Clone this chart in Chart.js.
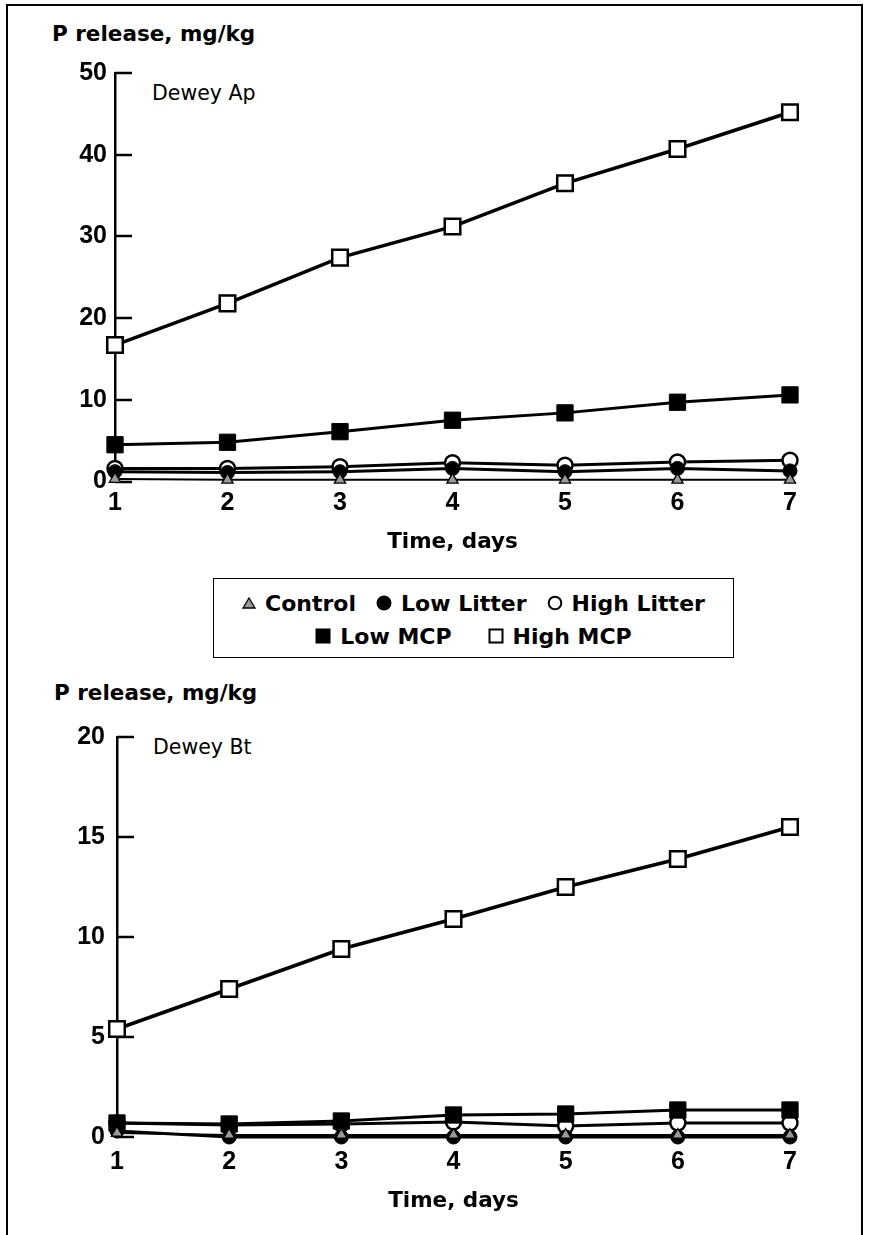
<!DOCTYPE html>
<html>
<head>
<meta charset="utf-8">
<script src="https://cdn.jsdelivr.net/npm/chart.js@4.4.1/dist/chart.umd.min.js"></script>
<style>
  body { margin: 0; background: #fff; }
  #page { position: relative; width: 869px; height: 1235px; overflow: hidden; font-family: "DejaVu Sans", sans-serif; color: #000; }
  #frame { position: absolute; left: 6px; top: 4px; width: 853px; height: 1300px; border: 2.5px solid #000; border-bottom: none; }
  .ytitle { position: absolute; font-weight: bold; font-size: 21.5px; line-height: 26px; white-space: nowrap; }
  .panel { position: absolute; font-size: 20.5px; line-height: 26px; white-space: nowrap; }
  canvas { position: absolute; left: 0; }
  #legend { position: absolute; left: 213px; top: 578px; width: 521px; height: 80px; box-sizing: border-box; border: 1.5px solid #000; font-weight: bold; font-size: 22px; }
  .row { position: absolute; left: 0; right: 0; height: 30px; display: flex; justify-content: center; align-items: center; white-space: nowrap; }
  .item { display: flex; align-items: center; margin: 0 10px; }
  .item svg { margin-right: 9px; }
</style>
</head>
<body>
<div id="page">
  <div id="frame"></div>

  <div class="ytitle" style="left:52px; top:21px;">P release, mg/kg</div>
  <div class="panel" style="left:152px; top:80px;">Dewey Ap</div>
  <canvas id="apChart" width="869" height="510" style="top:50px;"></canvas>

  <div id="legend">
    <div class="row" style="top:9px;">
      <span class="item"><svg width="14" height="12"><polygon points="7,1 13,11 1,11" fill="#999" stroke="#000" stroke-width="1.3"/></svg>Control</span>
      <span class="item"><svg width="16" height="16"><circle cx="8" cy="8" r="7.5" fill="#000"/></svg>Low Litter</span>
      <span class="item"><svg width="16" height="16"><circle cx="8" cy="8" r="6.3" fill="#fff" stroke="#000" stroke-width="2"/></svg>High Litter</span>
    </div>
    <div class="row" style="top:42px;">
      <span class="item" style="margin-right:18px;"><svg width="16" height="16"><rect x="0.5" y="0.5" width="15" height="15" fill="#000"/></svg>Low MCP</span>
      <span class="item" style="margin-left:18px;"><svg width="16" height="16"><rect x="1.5" y="1.5" width="13" height="13" fill="#fff" stroke="#000" stroke-width="2"/></svg>High MCP</span>
    </div>
  </div>

  <div class="ytitle" style="left:54px; top:680px;">P release, mg/kg</div>
  <div class="panel" style="left:153px; top:734px;">Dewey Bt</div>
  <canvas id="btChart" width="869" height="515" style="top:710px;"></canvas>
</div>

<script>
// --- Data ---
const days = [1, 2, 3, 4, 5, 6, 7];
const seriesNames = ['Control', 'Low Litter', 'High Litter', 'Low MCP', 'High MCP'];

// Dewey Ap (top panel)
const apControl    = [0.3, 0.2, 0.2, 0.2, 0.2, 0.2, 0.2];
const apLowLitter  = [1.2, 1.1, 1.2, 1.6, 1.2, 1.6, 1.3];
const apHighLitter = [1.6, 1.6, 1.8, 2.3, 2.0, 2.4, 2.6];
const apLowMCP     = [4.5, 4.8, 6.1, 7.5, 8.4, 9.7, 10.6];
const apHighMCP    = [16.7, 21.8, 27.4, 31.2, 36.5, 40.7, 45.2];
const apTicks = [0, 10, 20, 30, 40, 50];

// Dewey Bt (bottom panel)
const btControl    = [0.2, 0.1, 0.1, 0.1, 0.1, 0.1, 0.1];
const btLowLitter  = [0.3, 0, 0, 0, 0, 0, 0];
const btHighLitter = [0.7, 0.6, 0.65, 0.75, 0.55, 0.7, 0.7];
const btLowMCP     = [0.7, 0.65, 0.8, 1.1, 1.15, 1.35, 1.35];
const btHighMCP    = [5.4, 7.4, 9.4, 10.9, 12.5, 13.9, 15.5];
const btTicks = [0, 5, 10, 15, 20];

// marker look per series, same order as seriesNames
const styles = [
  { pointStyle: 'triangle', pointRadius: 6.5, bg: '#999', bw: 1.3, lw: 2,   order: 0 },
  { pointStyle: 'circle',   pointRadius: 7,   bg: '#000', bw: 1,   lw: 3,   order: 2 },
  { pointStyle: 'circle',   pointRadius: 7.5, bg: '#fff', bw: 2.5, lw: 3,   order: 3 },
  { pointStyle: 'rect',     pointRadius: 11.5, bg: '#000', bw: 1,  lw: 3,   order: 1 },
  { pointStyle: 'rect',     pointRadius: 11,  bg: '#fff', bw: 2.5, lw: 3.5, order: 4 }
];

// ticks pointing into the plot, like the original
const inwardTicks = {
  id: 'inwardTicks',
  beforeDatasetsDraw(chart) {
    const y = chart.scales.y;
    const ctx = chart.ctx;
    ctx.save();
    ctx.strokeStyle = '#000';
    ctx.lineWidth = 2.5;
    y.ticks.forEach(t => {
      const py = Math.round(y.getPixelForValue(t.value));
      ctx.beginPath();
      ctx.moveTo(y.right, py);
      ctx.lineTo(y.right + 17, py);
      ctx.stroke();
    });
    ctx.restore();
  }
};

const tickFont = { family: 'Liberation Sans', weight: 'bold', size: 25 };

const makeChart = (id, series, yTicks, cfg) => {
  const datasets = series.map((vals, i) => ({
    label: seriesNames[i],
    data: days.map((d, k) => ({ x: d, y: vals[k] })),
    borderColor: '#000',
    borderWidth: styles[i].lw,
    pointStyle: styles[i].pointStyle,
    pointRadius: styles[i].pointRadius,
    pointBackgroundColor: styles[i].bg,
    pointBorderColor: '#000',
    pointBorderWidth: styles[i].bw,
    tension: 0,
    clip: false,
    order: styles[i].order
  }));

  return new Chart(document.getElementById(id), {
    type: 'line',
    data: { datasets },
    options: {
      responsive: false,
      animation: false,
      layout: { padding: { top: cfg.topPad, right: 79, left: 0, bottom: 0 } },
      plugins: { legend: { display: false }, tooltip: { enabled: false } },
      scales: {
        x: {
          type: 'linear',
          min: 1,
          max: 7,
          afterBuildTicks: s => { s.ticks = days.map(v => ({ value: v })); },
          afterFit: s => { s.height = cfg.xHeight; },
          grid: { display: false, drawTicks: false },
          border: { display: false },
          ticks: { font: tickFont, color: '#000', padding: cfg.xTickPad, maxRotation: 0 },
          title: {
            display: true,
            text: 'Time, days',
            color: '#000',
            font: { family: 'DejaVu Sans', weight: 'bold', size: 21.5 },
            padding: { top: 0, bottom: cfg.titlePad }
          }
        },
        y: {
          min: 0,
          max: yTicks[yTicks.length - 1],
          afterBuildTicks: s => { s.ticks = yTicks.map(v => ({ value: v })); },
          afterFit: s => { s.width = cfg.yWidth; },
          grid: { display: false, drawTicks: false },
          border: { display: true, color: '#000', width: 2.5 },
          ticks: { font: tickFont, color: '#000', padding: cfg.yTickPad }
        }
      }
    },
    plugins: [inwardTicks]
  });
};

makeChart('apChart',
  [apControl, apLowLitter, apHighLitter, apLowMCP, apHighMCP], apTicks,
  { topPad: 21, xHeight: 78.5, xTickPad: 7, titlePad: 5, yWidth: 115, yTickPad: 8 });

makeChart('btChart',
  [btControl, btLowLitter, btHighLitter, btLowMCP, btHighMCP], btTicks,
  { topPad: 19.5, xHeight: 88, xTickPad: 10, titlePad: 11, yWidth: 117, yTickPad: 12 });
</script>
</body>
</html>
